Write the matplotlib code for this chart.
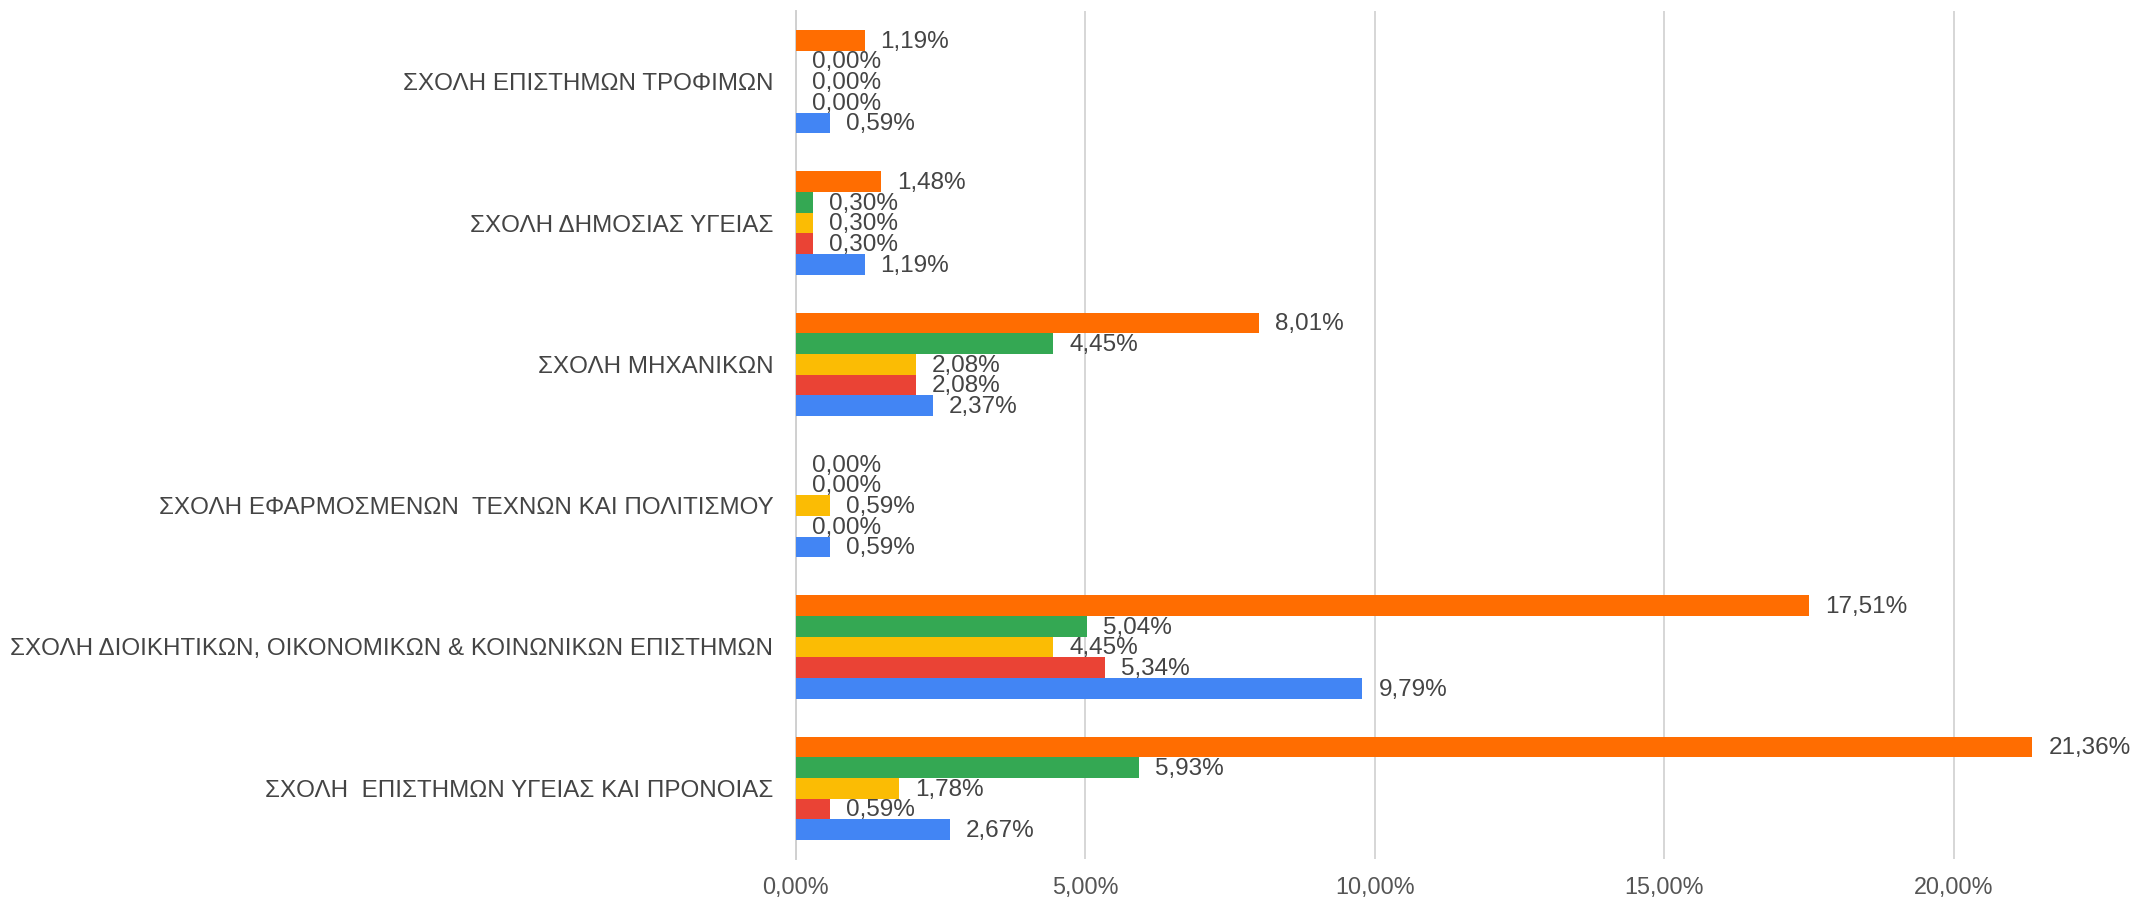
import matplotlib
matplotlib.use("Agg")
import matplotlib.pyplot as plt
import numpy as np

plt.rcParams['font.family'] = ['Liberation Sans', 'DejaVu Sans']

# Categories listed bottom -> top
categories = [
    "ΣΧΟΛΗ  ΕΠΙΣΤΗΜΩΝ ΥΓΕΙΑΣ ΚΑΙ ΠΡΟΝΟΙΑΣ",
    "ΣΧΟΛΗ ΔΙΟΙΚΗΤΙΚΩΝ, ΟΙΚΟΝΟΜΙΚΩΝ & ΚΟΙΝΩΝΙΚΩΝ ΕΠΙΣΤΗΜΩΝ",
    "ΣΧΟΛΗ ΕΦΑΡΜΟΣΜΕΝΩΝ  ΤΕΧΝΩΝ ΚΑΙ ΠΟΛΙΤΙΣΜΟΥ",
    "ΣΧΟΛΗ ΜΗΧΑΝΙΚΩΝ",
    "ΣΧΟΛΗ ΔΗΜΟΣΙΑΣ ΥΓΕΙΑΣ",
    "ΣΧΟΛΗ ΕΠΙΣΤΗΜΩΝ ΤΡΟΦΙΜΩΝ",
]

# Series values (%) per category, same order as categories
blue = [2.67, 9.79, 0.59, 2.37, 1.19, 0.59]
red = [0.59, 5.34, 0.00, 2.08, 0.30, 0.00]
yellow = [1.78, 4.45, 0.59, 2.08, 0.30, 0.00]
green = [5.93, 5.04, 0.00, 4.45, 0.30, 0.00]
orange = [21.36, 17.51, 0.00, 8.01, 1.48, 1.19]

series = [blue, red, yellow, green, orange]
colors = ["#4285F4", "#EA4335", "#FBBC04", "#34A853", "#FF6D01"]

xticks = [0, 5, 10, 15, 20]
xtick_labels = ["0,00%", "5,00%", "10,00%", "15,00%", "20,00%"]

W, H = 2154, 901
fig = plt.figure(figsize=(W / 100, H / 100), dpi=100)
left = 795.6 / W
right = (795.6 + 22 * 57.9) / W
top = 1 - 11 / H
bottom = 1 - 859 / H
ax = fig.add_axes([left, bottom, right - left, top - bottom])

text_color = "#444444"
y = np.arange(len(categories))
h = 0.1466
for i, (vals, c) in enumerate(zip(series, colors)):
    pos = y + (i - 2) * h
    ax.barh(pos, vals, height=h, color=c, edgecolor="none", zorder=3)
    for p, v in zip(pos, vals):
        ax.annotate(f"{v:.2f}".replace(".", ",") + "%", (v, p),
                    xytext=(11.5, -1), textcoords="offset points",
                    ha="left", va="center", fontsize=17.5, color=text_color,
                    zorder=4)

ax.set_xlim(0, 22)
ax.set_ylim(-0.5, len(categories) - 0.5)
ax.set_yticks(y)
ax.set_yticklabels(categories, fontsize=17.4, color=text_color)
ax.set_xticks(xticks)
ax.set_xticklabels(xtick_labels, fontsize=16.8, color="#555555")
ax.tick_params(axis="y", length=0, pad=16)
ax.tick_params(axis="x", length=0, pad=12)
ax.grid(axis="x", color="#d6d6d6", linewidth=1.4, zorder=0)
for s in ["top", "right", "bottom"]:
    ax.spines[s].set_visible(False)
ax.spines["left"].set_color("#d0d0d0")
ax.spines["left"].set_linewidth(1.4)
ax.spines["left"].set_zorder(2)

fig.savefig("out.png", dpi=100)
